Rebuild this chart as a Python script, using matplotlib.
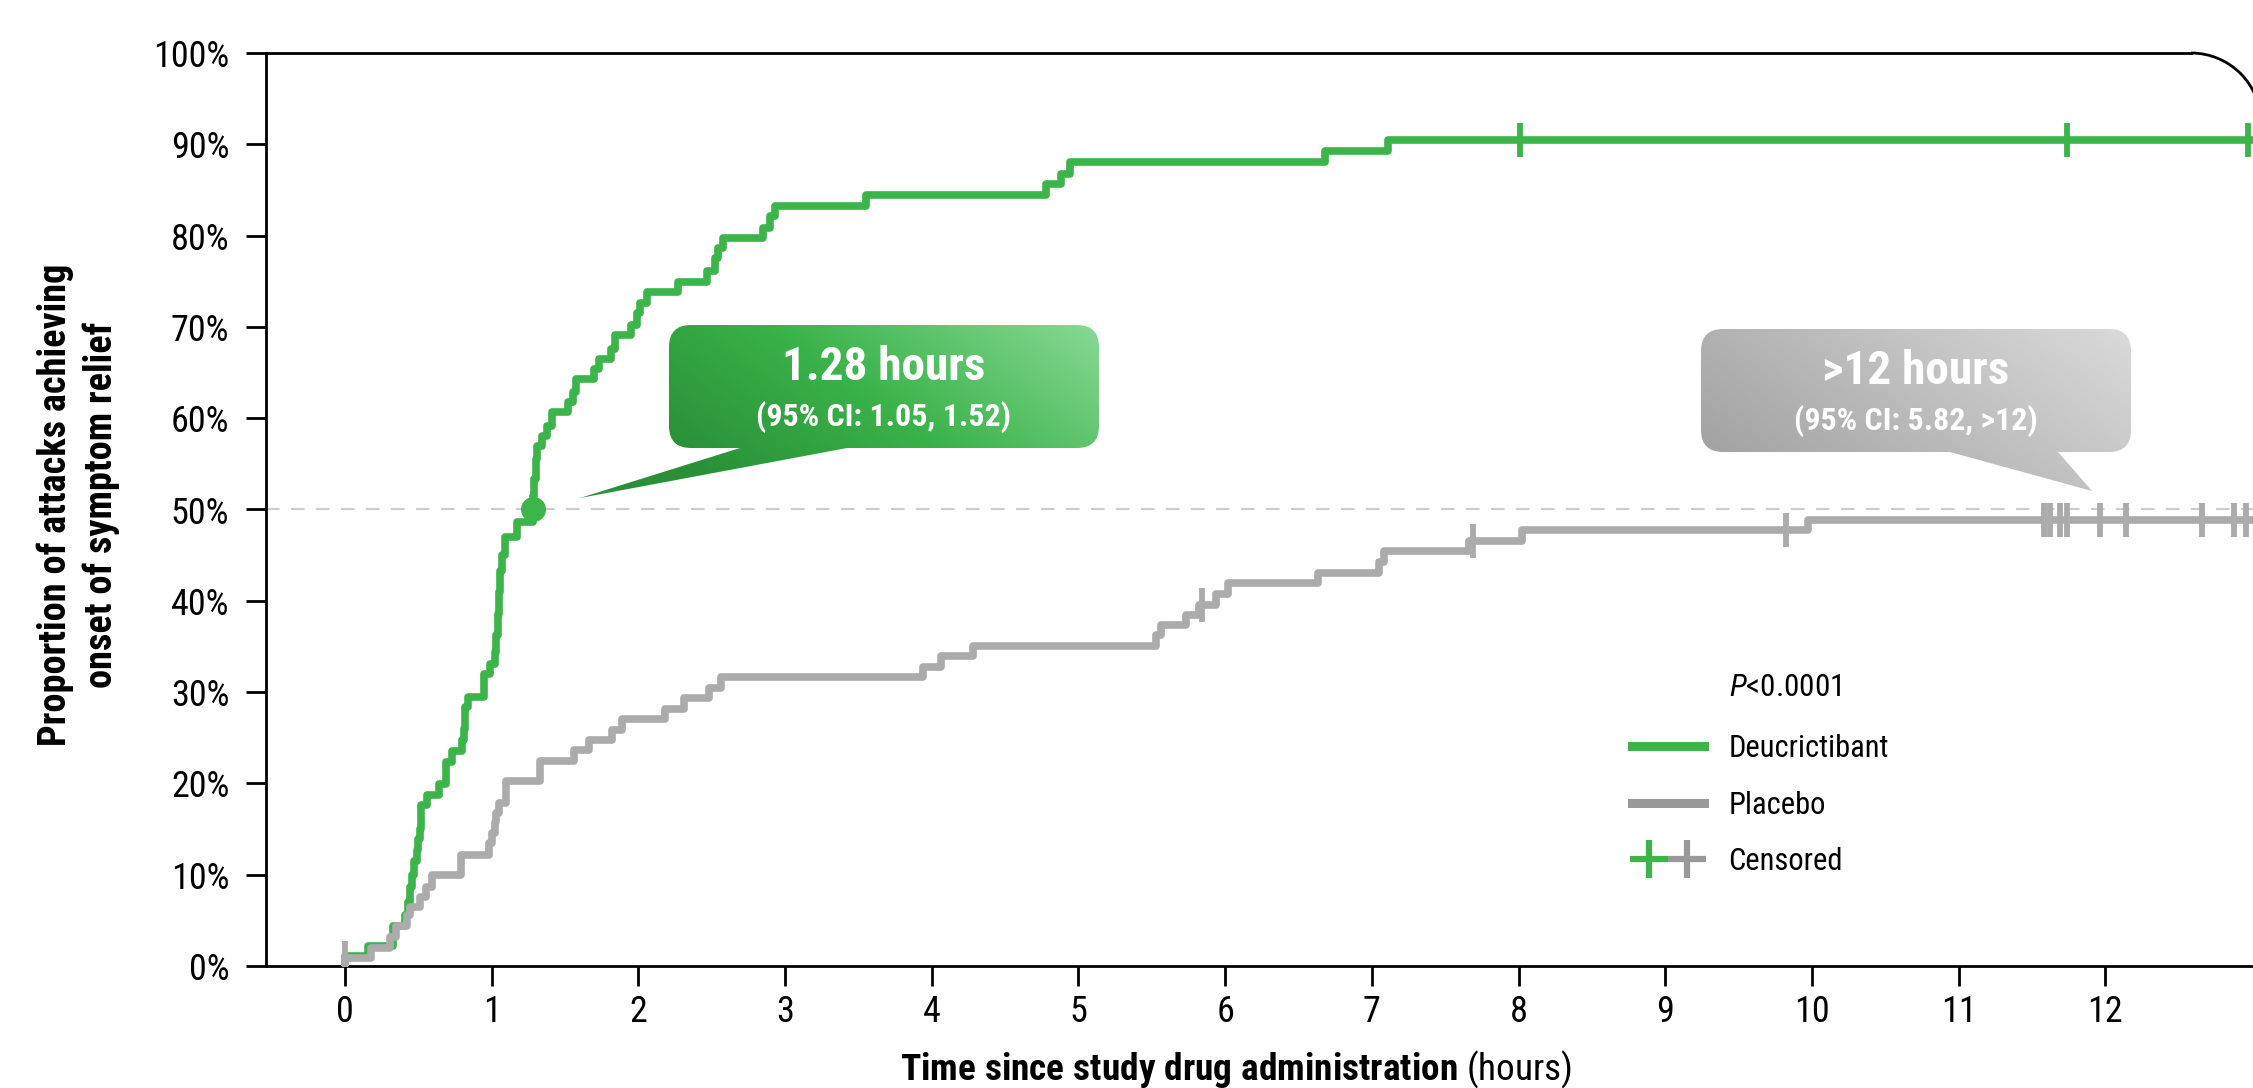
import numpy as np
import matplotlib
matplotlib.use('Agg')
import matplotlib.pyplot as plt
from matplotlib import font_manager
from matplotlib.patches import FancyBboxPatch, Polygon, Arc
from matplotlib.lines import Line2D
from matplotlib.legend_handler import HandlerTuple
from matplotlib.colors import LinearSegmentedColormap

# Datos (tiempo en horas, % acumulado tras cada evento)
t_deu = [0.00, 0.16, 0.33, 0.41, 0.43, 0.44, 0.46, 0.47, 0.49, 0.50,
         0.51, 0.52, 0.56, 0.64, 0.69, 0.73, 0.80, 0.81, 0.82, 0.84,
         0.95, 0.99, 1.02, 1.03, 1.04, 1.05, 1.06, 1.07, 1.09, 1.17,
         1.28, 1.29, 1.30, 1.31, 1.34, 1.375, 1.41, 1.52, 1.555, 1.575,
         1.70, 1.73, 1.81, 1.84, 1.95, 1.99, 2.01, 2.06, 2.27, 2.47,
         2.52, 2.545, 2.58, 2.85, 2.90, 2.93, 3.55, 4.78, 4.88, 4.94,
         6.68, 7.11]
p_deu = [1.1, 2.2, 4.4, 5.6, 7.0, 8.7, 10.0, 11.5, 12.7, 13.9,
         15.0, 17.6, 18.7, 19.9, 22.3, 23.5, 24.7, 26.0, 28.4, 29.5,
         32.0, 33.1, 34.4, 36.2, 38.5, 41.0, 43.3, 45.0, 47.0, 48.6,
         51.5, 53.3, 55.5, 57.0, 58.1, 59.2, 60.7, 61.8, 62.9, 64.3,
         65.4, 66.5, 67.6, 69.1, 70.2, 71.5, 72.6, 73.8, 74.9, 76.1,
         77.5, 78.6, 79.7, 80.8, 82.1, 83.2, 84.5, 85.7, 86.8, 88.1,
         89.3, 90.5]
t_pla = [0.00, 0.18, 0.31, 0.35, 0.42, 0.44, 0.51, 0.55, 0.59, 0.79,
         0.98, 1.00, 1.02, 1.03, 1.05, 1.10, 1.33, 1.56, 1.66, 1.82,
         1.89, 2.18, 2.31, 2.48, 2.56, 3.94, 4.06, 4.28, 5.53, 5.56,
         5.735, 5.82, 5.94, 6.02, 6.63, 7.05, 7.08, 7.66, 8.02, 9.97]
p_pla = [0.9, 2.0, 3.2, 4.4, 5.6, 6.5, 7.6, 8.7, 10.0, 12.2,
         13.5, 14.6, 15.8, 16.8, 17.9, 20.3, 22.5, 23.7, 24.8, 25.9,
         27.1, 28.2, 29.4, 30.5, 31.7, 32.8, 33.9, 35.1, 36.2, 37.3,
         38.4, 39.5, 40.7, 41.9, 43.0, 44.2, 45.4, 46.6, 47.7, 48.9]
cens_deu = [8.01, 11.74, 12.97]
cens_pla = [0.0, 5.84, 7.69, 9.82, 11.58, 11.62, 11.69, 11.74, 11.96,
            12.14, 12.66, 12.88, 12.96]
t_fin = 13.2
mediana_deu = 1.28

verde = '#3bb54a'
gris = '#ababab'
gris_ley = '#999999'

# Fuente condensada si existe
nombres = {f.name for f in font_manager.fontManager.ttflist}
fuente = next((n for n in ['Roboto Condensed', 'Liberation Sans Narrow', 'Roboto']
               if n in nombres), 'DejaVu Sans')
plt.rcParams['font.family'] = [fuente, 'DejaVu Sans']
plt.rcParams['mathtext.fontset'] = 'custom'
plt.rcParams['mathtext.rm'] = fuente
plt.rcParams['mathtext.it'] = fuente + ':italic'
plt.rcParams['mathtext.bf'] = fuente + ':bold'


def nivel(t_ev, p_ev, tc):
    idx = np.searchsorted(t_ev, tc, side='right') - 1
    return np.where(idx >= 0, np.array(p_ev)[np.maximum(idx, 0)], 0.0)


W, H = 2253, 1088
fig = plt.figure(figsize=(W / 100, H / 100), dpi=100)
ax = fig.add_axes([266 / W, 122 / H, 1 - 266 / W, 913 / H])
x0 = -0.5385
x1 = x0 + (W - 266) / 146.7
ax.set_xlim(x0, x1)
ax.set_ylim(0, 100)

# Curvas
ax.step([0] + t_deu + [t_fin], [0] + p_deu + [p_deu[-1]], where='post',
        color=verde, lw=5.5, zorder=3)
ax.step([0] + t_pla + [t_fin], [0] + p_pla + [p_pla[-1]], where='post',
        color=gris, lw=5.5, zorder=4)
ax.plot(cens_deu, nivel(t_deu, p_deu, cens_deu), ls='none', marker='|',
        ms=25, mew=4.2, color=verde, zorder=5)
ax.plot(cens_pla, nivel(t_pla, p_pla, cens_pla), ls='none', marker='|',
        ms=25, mew=4.2, color=gris, zorder=5)
ax.axhline(50, color='#cccccc', lw=1.5, dashes=(6.5, 5.5), zorder=1)
ax.plot(mediana_deu, 50, 'o', ms=17, color=verde, zorder=6)

# Ejes
ax.set_xticks(range(13))
ax.set_yticks(range(0, 101, 10))
ax.set_yticklabels([f'{v}%' for v in range(0, 101, 10)])
ax.tick_params(length=14.4, width=2, labelsize=26, color='black')
ax.tick_params(axis='y', pad=12)
ax.tick_params(axis='x', pad=6)
for s in ['left', 'bottom', 'top']:
    ax.spines[s].set_linewidth(2)
ax.spines['right'].set_visible(False)
rx = 70 / 146.7
ry = 70 / 9.13
xc = (2191 - 345) / 146.7
ax.spines['top'].set_bounds(x0, xc)
ax.add_patch(Arc((xc, 100 - ry), 2 * rx, 2 * ry, theta1=0, theta2=90,
                 lw=2, color='black', clip_on=False))

fig.text(78 / W, 0.536, 'Proportion of attacks achieving\nonset of symptom relief',
         rotation=90, ha='center', va='center', fontsize=27.5, fontweight='bold',
         linespacing=1.3)
fig.text(1236 / W, 8 / H,
         r'$\bf{Time\ since\ study\ drug\ administration}$ (hours)',
         ha='center', va='baseline', fontsize=26.8)

# Leyenda
h1 = Line2D([], [], color=verde, lw=6.5)
h2 = Line2D([], [], color=gris_ley, lw=6.5)
c1 = Line2D([], [], ls='none', marker='+', ms=28, mew=4.5, color=verde)
c2 = Line2D([], [], ls='none', marker='+', ms=28, mew=4.5, color=gris_ley)
ax.legend([h1, h2, (c1, c2)], ['Deucrictibant', 'Placebo', 'Censored'],
          handler_map={tuple: HandlerTuple(ndivide=None, pad=0.15)},
          loc='upper left', bbox_to_anchor=(1632 / W, (H - 734) / H),
          bbox_transform=fig.transFigure, frameon=False, fontsize=22,
          handlelength=2.35, handletextpad=0.8, labelspacing=0.9,
          borderaxespad=0, borderpad=0)
fig.text(1729 / W, (H - 687) / H, r'$P$<0.0001', ha='left', va='center', fontsize=22.5)

# Globos con degradado (coordenadas en píxeles)
ov = fig.add_axes([0, 0, 1, 1], zorder=10)
ov.patch.set_visible(False)
ov.axis('off')


def globo(caja, base, punta, colores, lin1, lin2):
    bx0, by0, bx1, by1 = caja
    rect = FancyBboxPatch((bx0, by0), bx1 - bx0, by1 - by0,
                          boxstyle='round,pad=0,rounding_size=22', fc='none', ec='none')
    tri = Polygon([base[0], base[1], punta], closed=True, fc='none', ec='none')
    ov.add_patch(rect)
    ov.add_patch(tri)
    ex0, ex1 = min(bx0, punta[0]), max(bx1, punta[0])
    ey0, ey1 = by0, max(by1, punta[1])
    xs = np.linspace(ex0, ex1, 300)
    ys = np.linspace(ey0, ey1, 150)
    X, Y = np.meshgrid(xs, ys)
    u = (X - bx0) / (bx1 - bx0)
    v = (by1 - Y) / (by1 - by0)
    t = np.clip(0.72 * u + 0.28 * v, 0, 1)
    cmap = LinearSegmentedColormap.from_list('g', colores)
    for p in (rect, tri):
        im = ov.imshow(t, extent=(ex0, ex1, ey1, ey0), origin='upper', cmap=cmap,
                       vmin=0, vmax=1, aspect='auto', interpolation='bilinear')
        im.set_clip_path(p)
    cx = (bx0 + bx1) / 2
    ov.text(cx, by0 + 42, lin1, ha='center', va='center', color='white',
            fontsize=34, fontweight='bold')
    ov.text(cx, by0 + 92, lin2, ha='center', va='center', color='white',
            fontsize=23, fontweight='bold')


globo((669, 325, 1099, 448), [(740, 448), (847, 448)], (580, 498),
      [(0, '#2a9038'), (0.45, '#39b249'), (1, '#88d994')],
      '1.28 hours', '(95% CI: 1.05, 1.52)')
globo((1701, 329, 2131, 452), [(1950, 452), (2058, 452)], (2092, 491),
      [(0, '#a2a2a2'), (1, '#dadada')],
      '>12 hours', '(95% CI: 5.82, >12)')
ov.set_xlim(0, W)
ov.set_ylim(H, 0)

fig.savefig('out.png', dpi=100)
